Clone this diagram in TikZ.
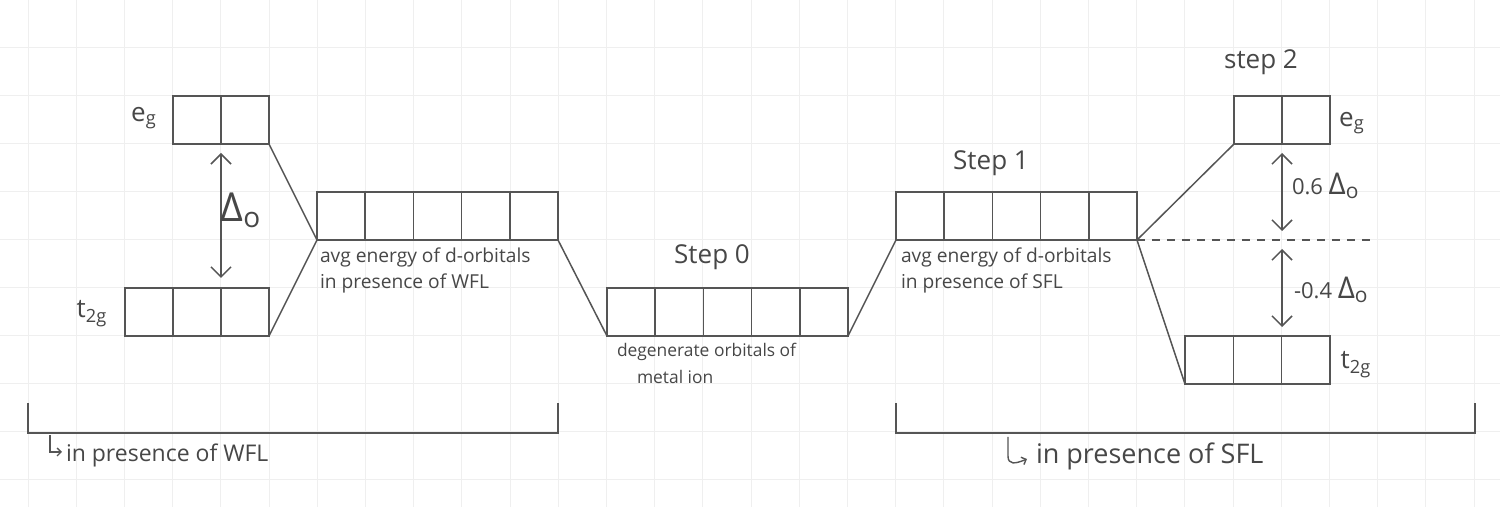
\documentclass[tikz,border=0pt]{standalone}
\usepackage{fontspec}
\setmainfont{Open Sans}
\usetikzlibrary{arrows.meta,calc}
\definecolor{ink}{HTML}{555555}
\definecolor{gridc}{HTML}{EFEFEF}
\definecolor{txt}{HTML}{474747}
\newcommand{\mycells}[2]{\foreach \f in {#2}{\draw[boxline] ($(#1.north west)!\f!(#1.north east)$) -- ($(#1.south west)!\f!(#1.south east)$);}}
\tikzset{
  boxline/.style={draw=ink, line width=0.8pt},
  orbbox/.style={draw=ink, line width=0.8pt, minimum height=24pt, inner sep=0pt, outer sep=0pt},
  conn/.style={draw=ink, line width=0.75pt},
  dbl/.style={draw=ink, line width=0.75pt, {Straight Barb[length=5pt,width=10pt]}-{Straight Barb[length=5pt,width=10pt]}},
  hook/.style={draw=ink, line width=0.7pt, -{Straight Barb[length=2pt,width=4pt]}},
  lbl/.style={text=txt, inner sep=0pt, outer sep=0pt},
}
\begin{document}
\begin{tikzpicture}[x=0.5pt, y=-0.5pt]
\useasboundingbox (0,0) rectangle (1500,507);
\fill[white] (0,0) rectangle (1500,507);
% background grid
\foreach \k in {0,...,30} { \draw[gridc, line width=0.5pt] ({28+48.2*\k},0) -- ({28+48.2*\k},507); }
\foreach \k in {1,...,10} { \draw[gridc, line width=0.5pt] (0,{48*\k}) -- (1500,{48*\k}); }

% orbital boxes
\node[orbbox, minimum width=48pt] (weg) at (221,120) {};
\node[orbbox, minimum width=72pt] (wt2g) at (197,312) {};
\node[orbbox, minimum width=120.5pt] (wavg) at (437.5,216) {};
\node[orbbox, minimum width=120.5pt] (s0) at (727.5,312) {};
\node[orbbox, minimum width=120.5pt] (savg) at (1016.5,216) {};
\node[orbbox, minimum width=48pt] (seg) at (1282,120) {};
\node[orbbox, minimum width=72.5pt] (st2g) at (1257.5,360) {};
\mycells{weg}{0.5}
\mycells{wt2g}{0.3333,0.6667}
\mycells{wavg}{0.2,0.4,0.6,0.8}
\mycells{s0}{0.2,0.4,0.6,0.8}
\mycells{savg}{0.2,0.4,0.6,0.8}
\mycells{seg}{0.5}
\mycells{st2g}{0.3333,0.6667}

% connectors
\draw[conn] (weg.south east) -- (wavg.south west);
\draw[conn] (wt2g.south east) -- (wavg.south west);
\draw[conn] (wavg.south east) -- (s0.south west);
\draw[conn] (s0.south east) -- (savg.south west);
\draw[conn] (savg.south east) -- (seg.south west);
\draw[conn] (savg.south east) -- (st2g.south west);
\coordinate (dashend) at (1370,240);
\draw[conn, dash pattern=on 4pt off 3.5pt] (savg.south east) -- (dashend);

% splitting arrows
\coordinate (la1) at (221,153); \coordinate (la2) at (221,278);
\draw[dbl] (la1) -- (la2);
\coordinate (ra1) at (1282,153); \coordinate (ra2) at (1282,231);
\draw[dbl] (ra1) -- (ra2);
\coordinate (rb1) at (1282,249); \coordinate (rb2) at (1282,327);
\draw[dbl] (rb1) -- (rb2);

% brackets
\coordinate (bl1) at (28,403); \coordinate (bl2) at (28,433);
\coordinate (bl3) at (558,433); \coordinate (bl4) at (558,403);
\draw[boxline] (bl1) -- (bl2) -- (bl3) -- (bl4);
\coordinate (br1) at (896,403); \coordinate (br2) at (896,433);
\coordinate (br3) at (1475,433); \coordinate (br4) at (1475,403);
\draw[boxline] (br1) -- (br2) -- (br3) -- (br4);

% hooks
\coordinate (hl1) at (50,435); \coordinate (hl2) at (50,452); \coordinate (hl3) at (62,452);
\draw[hook] (hl1) -- (hl2) -- (hl3);
\coordinate (hr1) at (1008,437); \coordinate (hr2) at (1027,459);
\draw[hook] (hr1) -- (1008,456) .. controls (1008,465) and (1015,464) .. (hr2);

% labels
\node[lbl, font=\fontsize{13}{15}\selectfont] (leg) at (144,118) {e\textsubscript{g}};
\node[lbl, font=\fontsize{13}{15}\selectfont] (lt2g) at (92,314) {t\textsubscript{2g}};
\node[lbl, font=\fontsize{13}{15}\selectfont] (reg) at (1352,123) {e\textsubscript{g}};
\node[lbl, font=\fontsize{13}{15}\selectfont] (rt2g) at (1356,365) {t\textsubscript{2g}};
\node[lbl, font=\fontsize{20}{22}\selectfont] (ldelta) at (241,210) {Δ\textsubscript{o}};
\node[lbl, anchor=west, font=\fontsize{11}{13}\selectfont] (rdelta1) at (1292,186) {0.6 {\fontsize{15}{17}\selectfont Δ\textsubscript{o}}};
\node[lbl, anchor=west, font=\fontsize{11}{13}\selectfont] (rdelta2) at (1294,290) {-0.4 {\fontsize{15}{17}\selectfont Δ\textsubscript{o}}};

\node[lbl, anchor=north west, align=left, font=\fontsize{9.6}{13}\selectfont] (wtxt) at (320,248) {avg energy of d-orbitals\\in presence of WFL};
\node[lbl, anchor=north west, align=left, font=\fontsize{9.6}{13}\selectfont] (stxt) at (901,248) {avg energy of d-orbitals\\in presence of SFL};

\node[lbl, font=\fontsize{13}{15}\selectfont] (step0) at (712,257) {Step 0};
\node[lbl, font=\fontsize{13}{15}\selectfont] (step1) at (991,163) {Step 1};
\node[lbl, font=\fontsize{13}{15}\selectfont] (step2) at (1261,62) {step 2};

\node[lbl, anchor=west, font=\fontsize{8.7}{11}\selectfont] (deg1) at (617,352) {degenerate orbitals of};
\node[lbl, anchor=west, font=\fontsize{8.7}{11}\selectfont] (deg2) at (637,377) {metal ion};

\node[lbl, anchor=west, font=\fontsize{11.5}{13}\selectfont] (wfl) at (66,455) {in presence of WFL};
\node[lbl, anchor=west, font=\fontsize{13.5}{15}\selectfont] (sfl) at (1036,456) {in presence of SFL};
\end{tikzpicture}
\end{document}
